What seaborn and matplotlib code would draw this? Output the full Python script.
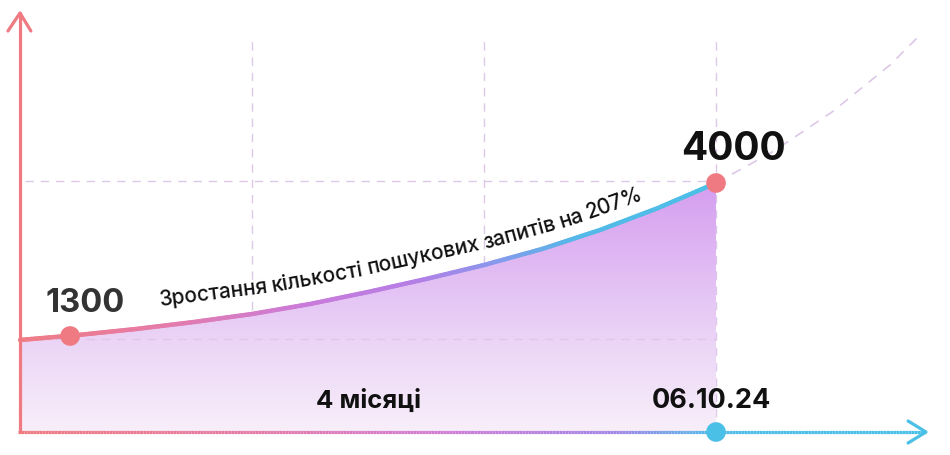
import numpy as np
import matplotlib
matplotlib.use("Agg")
import matplotlib.pyplot as plt
from matplotlib.collections import LineCollection
from matplotlib.colors import LinearSegmentedColormap
import seaborn as sns
import pandas as pd

# --- Дані ---
# x — у клітинках сітки (вертикальні лінії на 1, 2, 3), y — висота над віссю
curve_x = [0.0, 0.25, 0.5, 0.75, 1.0, 1.25, 1.5, 1.75, 2.0, 2.25, 2.5, 2.75, 3.0]
curve_y = [92, 97, 103, 110, 118, 128, 140, 153, 167, 183, 202, 224, 249]
trend_x = [3.0, 3.25, 3.5, 3.75, 3.888]
trend_y = [249, 281, 320, 367, 399]
point_x = [0.216, 3.0]
point_y = [96, 249]
point_labels = ["1300", "4000"]
date_x = 3.0
date_label = "06.10.24"
period_label = "4 місяці"
growth_words = ["Зростання", "кількості", "пошукових", "запитів", "на", "207%"]
grid_x = [1, 2, 3]

RED = "#EF7A81"
BLUE = "#4BC0E6"
GRID = "#DCC8E8"

sns.set_theme(style="white")
plt.rcParams["font.family"] = ["Inter", "DejaVu Sans"]

fig = plt.figure(figsize=(9.5, 4.55), dpi=100)
ax = fig.add_axes([0, 0, 1, 1])
ax.set_axis_off()
ax.set_xlim(-0.0862, 4.0086)
ax.set_ylim(-23, 432)

# --- сітка ---
for gx in grid_x:
    ax.plot([gx, gx], [0, 394], color=GRID, lw=1, ls=(0, (6, 5)), zorder=0)
ax.plot([0.02, 3.0], [curve_y[-1] + 2, curve_y[-1] + 2], color=GRID, lw=1, ls=(0, (6, 5)), zorder=0)
ax.plot([0.02, 3.0], [curve_y[0] + 1, curve_y[0] + 1], color=GRID, lw=1, ls=(0, (6, 5)), zorder=2)

# --- заливка під кривою з вертикальним градієнтом ---
poly = ax.fill_between(curve_x, 0, curve_y, color="none", lw=0)
fill_cmap = LinearSegmentedColormap.from_list(
    "fill", [(0, "#F8EFFA"), (0.37, "#EBD4F6"), (1, "#D59EF0")])
grad = np.linspace(0, 1, 256).reshape(-1, 1)
img = ax.imshow(grad, cmap=fill_cmap, extent=[0, 3, 0, 249], origin="lower",
                aspect="auto", zorder=1)
img.set_clip_path(poly.get_paths()[0], transform=ax.transData)

# --- крива з градієнтом кольору ---
line_cmap = LinearSegmentedColormap.from_list(
    "line", [(0, "#F07C84"), (0.2, "#E57BA8"), (0.4, "#CC7BD8"), (0.57, "#B47EE6"),
             (0.68, "#8A97EC"), (0.8, "#55B8E8"), (1, BLUE)])
segs, cols = [], []
for i in range(len(curve_x) - 1):
    for t in np.linspace(0, 1, 21)[:-1]:
        x0 = curve_x[i] + (curve_x[i + 1] - curve_x[i]) * t
        y0 = curve_y[i] + (curve_y[i + 1] - curve_y[i]) * t
        x1 = curve_x[i] + (curve_x[i + 1] - curve_x[i]) * (t + 0.05)
        y1 = curve_y[i] + (curve_y[i + 1] - curve_y[i]) * (t + 0.05)
        segs.append([(x0, y0), (x1, y1)])
        cols.append(line_cmap((x0 + x1) / 2 / 3.0))
ax.add_collection(LineCollection(segs, colors=cols, linewidths=3.2,
                                 capstyle="round", joinstyle="round", zorder=4))

# --- продовження тренду (пунктир) ---
trend = pd.DataFrame({"x": trend_x, "y": trend_y})
sns.lineplot(data=trend, x="x", y="y", ax=ax, color=GRID, lw=1.2,
             dashes=False, linestyle=(0, (6, 5)), zorder=2)

# --- осі зі стрілками ---
ax.plot([0, 0], [0, 419], color=RED, lw=2.3, solid_capstyle="round", zorder=5)
ax.plot([-0.052, 0, 0.047], [401, 419, 401], color=RED, lw=2.3,
        solid_capstyle="round", solid_joinstyle="round", zorder=5)

axis_cmap = LinearSegmentedColormap.from_list(
    "axis", [(0, "#EF7A80"), (0.25, "#E57BA6"), (0.47, "#D07CD6"),
             (0.66, "#A286E6"), (0.77, "#4FBDE8"), (1, BLUE)])
xs = np.linspace(-0.0086, 3.905, 300)
axis_segs = [[(xs[i], 0), (xs[i + 1], 0)] for i in range(len(xs) - 1)]
axis_cols = [axis_cmap(i / (len(xs) - 2)) for i in range(len(xs) - 1)]
ax.add_collection(LineCollection(axis_segs, colors=axis_cols, linewidths=2.3, zorder=5))
ax.plot([3.828, 3.905, 3.828], [11, 0, -11], color=BLUE, lw=2.3,
        solid_capstyle="round", solid_joinstyle="round", zorder=5)

# --- точки ---
pts = pd.DataFrame({"x": point_x + [date_x], "y": point_y + [0],
                    "kind": ["a", "b", "c"]})
sns.scatterplot(data=pts, x="x", y="y", hue="kind", palette=[RED, RED, BLUE],
                s=200, linewidth=0, legend=False, ax=ax, zorder=6)

# --- підписи ---
ax.annotate(point_labels[0], (point_x[0], point_y[0]), xytext=(15, 33),
            textcoords="offset pixels", ha="center", va="center",
            fontsize=23.5, fontweight="bold", color="#333333", zorder=7)
ax.annotate(point_labels[1], (point_x[1], point_y[1]), xytext=(17, 34),
            textcoords="offset pixels", ha="center", va="center",
            fontsize=28, fontweight="bold", color="#111111", zorder=7)
ax.annotate(date_label, (date_x, 0), xytext=(-5, 31), textcoords="offset pixels",
            ha="center", va="center", fontsize=19.5, fontweight="bold",
            color="#111111", zorder=7)
ax.text(1.5, 31, period_label, ha="center", va="center", fontsize=18.5,
        fontweight="bold", color="#111111", zorder=7)

# --- напис уздовж кривої (по словах) ---
renderer = fig.canvas.get_renderer()


def base_h(px):
    # висота базової лінії тексту над віссю (1 одиниця = 1 піксель)
    xd = (px - 20) / 232
    off = 20 - 6 * (px - 160) / 477
    return np.interp(xd, curve_x, curve_y) + off


pos = 160.0
space = 4.5
for word in growth_words:
    t = ax.text(0, 0, word, fontsize=15, fontweight="medium", color="#111111",
                ha="left", va="baseline", rotation_mode="anchor", zorder=7)
    w = t.get_window_extent(renderer).width
    ang = 0.0
    for _ in range(4):
        end = pos + w * np.cos(ang)
        ang = np.arctan((base_h(end) - base_h(pos)) / (end - pos))
    t.set_position(((pos - 20) / 232, base_h(pos)))
    t.set_rotation(np.degrees(ang))
    pos += (w + space) * np.cos(ang)

fig.savefig("out.png", dpi=100, facecolor="white")
